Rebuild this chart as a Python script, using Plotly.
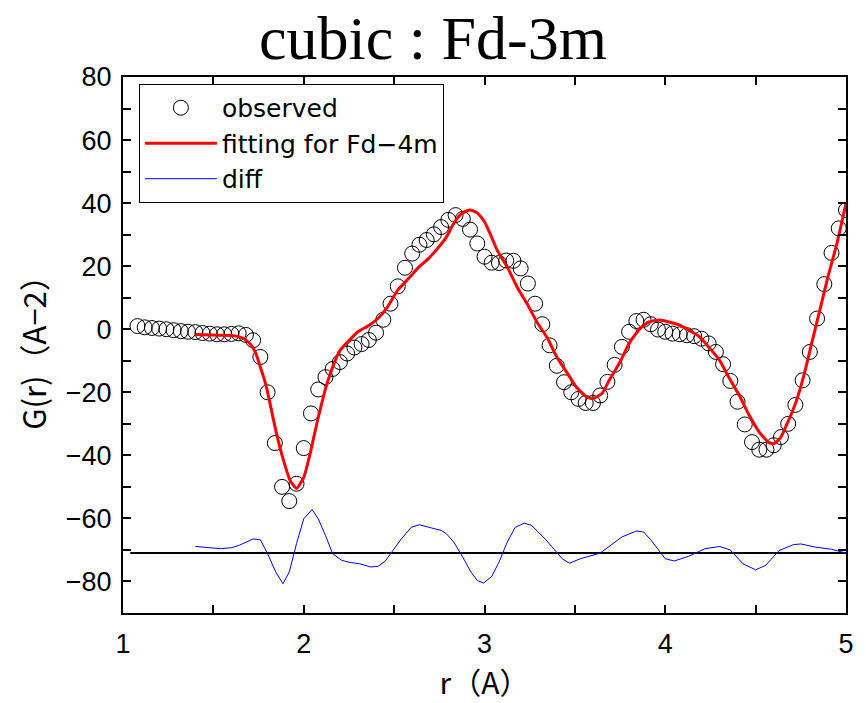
import plotly.graph_objects as go

# observed G(r)
obs_r = [round(1.08 + 0.04 * i, 2) for i in range(99)]
obs_G = [1.0, 0.6, 0.4, 0.2, 0.0, -0.3, -0.6, -0.8, -0.9, -1.2,
         -1.4, -1.6, -1.6, -1.5, -1.3, -1.8, -3.5, -8.8, -20.0, -36.1,
         -50.0, -54.5, -49.0, -37.7, -26.7, -19.1, -15.2, -12.6, -10.4, -7.7,
         -5.8, -4.7, -3.4, -1.1, 3.0, 8.1, 13.6, 19.5, 24.0, 26.8,
         28.3, 30.1, 32.4, 34.7, 36.2, 35.0, 31.6, 27.2, 23.0, 21.1,
         21.0, 21.8, 21.7, 19.3, 14.5, 8.1, 1.6, -5.1, -11.6, -16.8,
         -20.0, -22.1, -23.4, -23.4, -21.0, -16.7, -11.3, -5.6, -0.8, 2.6,
         3.0, 1.6, -0.1, -0.8, -1.4, -1.6, -1.9, -2.2, -3.0, -4.5,
         -7.2, -11.1, -16.4, -23.0, -30.2, -35.8, -38.2, -38.2, -36.8, -34.2,
         -30.0, -24.0, -16.2, -7.2, 3.4, 14.3, 24.2, 32.0, 37.8]

# fitting curve
fit_r = [1.40, 1.53, 1.62, 1.67, 1.71, 1.735, 1.76, 1.79, 1.815, 1.845,
         1.88, 1.925, 1.96, 2.00, 2.035, 2.08, 2.13, 2.17, 2.20, 2.25,
         2.30, 2.36, 2.41, 2.46, 2.52, 2.58, 2.63, 2.69, 2.74, 2.79,
         2.83, 2.87, 2.90, 2.92, 2.96, 3.00, 3.035, 3.07, 3.13, 3.18,
         3.24, 3.29, 3.35, 3.40, 3.46, 3.51, 3.565, 3.60, 3.65, 3.69,
         3.75, 3.80, 3.86, 3.91, 3.97, 4.02, 4.08, 4.13, 4.19, 4.24,
         4.30, 4.35, 4.41, 4.46, 4.52, 4.57, 4.60, 4.64, 4.67, 4.72,
         4.765, 4.81, 4.855, 4.90, 4.95, 5.00]
fit_G = [-1.7, -1.9, -2.1, -3.0, -5.1, -7.7, -12.0, -17.5, -24.0, -32.0,
         -40.0, -48.0, -50.5, -47.0, -39.5, -28.0, -17.0, -10.5, -6.8, -3.6,
         -0.8, 1.2, 3.4, 6.8, 12.4, 16.1, 19.3, 22.4, 25.6, 29.3,
         33.6, 36.5, 37.5, 37.8, 36.9, 34.1, 29.8, 25.1, 19.3, 13.4,
         7.6, 2.3, -3.0, -8.8, -14.1, -18.5, -21.5, -22.0, -20.4, -16.2,
         -10.4, -4.5, 0.2, 2.3, 2.9, 2.3, 1.3, -0.3, -2.4, -5.6,
         -9.8, -15.1, -21.0, -26.8, -32.6, -35.8, -36.3, -34.2, -30.5, -23.6,
         -15.1, -4.5, 6.0, 16.6, 27.2, 39.9]

# difference curve (offset)
diff_r = [1.40, 1.48, 1.54, 1.60, 1.64, 1.72, 1.76, 1.80, 1.845, 1.885,
          1.92, 1.96, 2.00, 2.046, 2.08, 2.12, 2.16, 2.21, 2.25, 2.31,
          2.37, 2.41, 2.45, 2.49, 2.54, 2.595, 2.64, 2.705, 2.76, 2.79,
          2.83, 2.88, 2.925, 2.96, 2.995, 3.04, 3.08, 3.126, 3.17, 3.22,
          3.26, 3.34, 3.43, 3.47, 3.53, 3.64, 3.76, 3.84, 3.88, 3.92,
          4.00, 4.05, 4.13, 4.22, 4.30, 4.36, 4.43, 4.50, 4.555, 4.63,
          4.71, 4.75, 4.83, 4.92, 4.99, 5.00]
diff_G = [-68.9, -69.3, -69.6, -69.3, -68.6, -66.5, -66.8, -71.2, -77.0, -80.7,
          -77.0, -68.0, -60.1, -57.2, -60.1, -65.4, -71.2, -73.3, -73.9, -74.4,
          -75.4, -75.2, -73.6, -70.4, -66.5, -62.8, -62.0, -63.0, -63.8, -64.9,
          -67.5, -72.3, -77.0, -79.7, -80.5, -78.4, -73.9, -67.5, -62.8, -61.5,
          -62.2, -66.8, -72.8, -74.2, -72.8, -71.0, -65.9, -64.0, -64.3, -66.8,
          -72.8, -73.5, -72.0, -69.6, -68.9, -70.0, -74.4, -76.3, -74.9, -70.2,
          -68.3, -68.1, -69.1, -69.8, -70.7, -71.0]

# zero line of the difference curve
base_r = [1.04, 5.0]
base_G = [-71, -71]

fig = go.Figure()
fig.add_trace(go.Scatter(x=obs_r, y=obs_G, mode="markers", name="observed",
                         marker=dict(symbol="circle-open", size=15,
                                     color="black", line=dict(width=1, color="black"))))
fig.add_trace(go.Scatter(x=fit_r, y=fit_G, mode="lines", name="fitting for Fd\u22124m",
                         line=dict(color="#ff0000", width=3, shape="spline", smoothing=0.5)))
fig.add_trace(go.Scatter(x=base_r, y=base_G, mode="lines", showlegend=False,
                         line=dict(color="black", width=2)))
fig.add_trace(go.Scatter(x=diff_r, y=diff_G, mode="lines", name="diff",
                         line=dict(color="#0000ff", width=1)))

axis_common = dict(showline=True, linecolor="black", linewidth=2, mirror="ticks",
                   ticks="inside", ticklen=8, tickwidth=2, tickcolor="black",
                   showgrid=False, zeroline=False,
                   tickfont=dict(family="Liberation Sans, Arial", size=27, color="black"))

fig.update_xaxes(range=[1, 5], tick0=1, dtick=1, ticklabelstandoff=6,
                 minor=dict(ticks="inside", ticklen=8, tickwidth=2, tickcolor="black", dtick=0.5, showgrid=False),
                 title=dict(text="r\uff08A\uff09", font=dict(family="Noto Sans CJK JP", size=30, color="black"), standoff=8),
                 **axis_common)
fig.update_yaxes(range=[-90, 80], tick0=-80, dtick=20, ticklabelstandoff=4,
                 minor=dict(ticks="inside", ticklen=8, tickwidth=2, tickcolor="black", dtick=10, showgrid=False),
                 title=dict(text="G(r)\uff08A\u22122\uff09", font=dict(family="Noto Sans CJK JP", size=31, color="black"), standoff=10),
                 **axis_common)

fig.update_layout(
    width=866, height=703,
    margin=dict(l=123, r=15, t=77, b=90),
    paper_bgcolor="white", plot_bgcolor="white",
    title=dict(text="cubic : Fd-3m", x=0.5, xanchor="center", y=0.978, yanchor="top",
               font=dict(family="Liberation Serif, Times New Roman", size=62, color="black")),
    legend=dict(x=0.022, y=0.987, xanchor="left", yanchor="top",
                bgcolor="white", bordercolor="black", borderwidth=1,
                font=dict(family="DejaVu Sans", size=25, color="black"),
                itemwidth=72, tracegroupgap=0),
    showlegend=True,
)

fig.write_html("out.html")
